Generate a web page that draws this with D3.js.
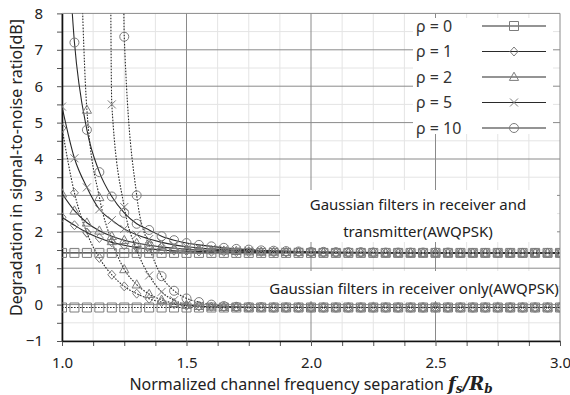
<!DOCTYPE html>
<html>
<head>
<meta charset="utf-8">
<title>Degradation vs channel separation</title>
<style>
  body { margin: 0; background: #fff; }
  svg { display: block; }
  svg text { font-family: "Noto Sans", sans-serif; fill: #222; }
  .grid-minor line { stroke: #e4e4e4; stroke-width: 1; }
  .grid-major line { stroke: #8a8a8a; stroke-width: 1; }
  .axis path { stroke: #111; stroke-width: 1.6; }
  .axis line { stroke: #555; }
  .axis text { font-size: 15px; fill: #222; }
  .curve { fill: none; stroke: #2a2a2a; stroke-width: 1.1; }
  .curve.dotted { stroke-dasharray: 1.6 1.4; }
  .marker { fill: none; stroke: #7c7c7c; stroke-width: 1; }
  .math { font-family: "DejaVu Serif", serif; font-weight: bold; font-style: italic; }
</style>
</head>
<body>
<svg width="570" height="395"></svg>
<script src="https://cdnjs.cloudflare.com/ajax/libs/d3/7.8.5/d3.min.js"></script>
<script>
// normalized channel frequency separation fs/Rb
const xVals = [1.00, 1.05, 1.10, 1.15, 1.20, 1.25, 1.30, 1.35, 1.40, 1.45, 1.50, 1.55, 1.60, 1.65,
  1.70, 1.75, 1.80, 1.85, 1.90, 1.95, 2.00, 2.05, 2.10, 2.15, 2.20, 2.25, 2.30, 2.35, 2.40, 2.45,
  2.50, 2.55, 2.60, 2.65, 2.70, 2.75, 2.80, 2.85, 2.90, 2.95, 3.00];

// Gaussian filters in receiver and transmitter (solid lines)
const bothRho0 = [1.42, 1.42, 1.42, 1.42, 1.42, 1.42, 1.42, 1.42, 1.42, 1.42, 1.42, 1.42, 1.42, 1.42,
  1.42, 1.42, 1.42, 1.42, 1.42, 1.42, 1.42, 1.42, 1.42, 1.42, 1.42, 1.42, 1.42, 1.42, 1.42, 1.42,
  1.42, 1.42, 1.42, 1.42, 1.42, 1.42, 1.42, 1.42, 1.42, 1.42, 1.42];
const bothRho1 = [2.40, 2.18, 1.98, 1.83, 1.71, 1.63, 1.57, 1.53, 1.50, 1.48, 1.47, 1.46, 1.45, 1.45,
  1.44, 1.44, 1.44, 1.43, 1.43, 1.43, 1.43, 1.42, 1.42, 1.42, 1.42, 1.42, 1.42, 1.42, 1.42, 1.42,
  1.42, 1.42, 1.42, 1.42, 1.42, 1.42, 1.42, 1.42, 1.42, 1.42, 1.42];
const bothRho2 = [3.05, 2.58, 2.25, 2.03, 1.88, 1.77, 1.69, 1.63, 1.58, 1.55, 1.52, 1.50, 1.49, 1.48,
  1.47, 1.46, 1.45, 1.45, 1.44, 1.44, 1.44, 1.43, 1.43, 1.43, 1.43, 1.43, 1.42, 1.42, 1.42, 1.42,
  1.42, 1.42, 1.42, 1.42, 1.42, 1.42, 1.42, 1.42, 1.42, 1.42, 1.42];
const bothRho5 = [5.44, 4.02, 3.22, 2.62, 2.32, 2.08, 1.92, 1.80, 1.71, 1.64, 1.59, 1.56, 1.53, 1.51,
  1.49, 1.48, 1.47, 1.46, 1.45, 1.45, 1.44, 1.44, 1.44, 1.43, 1.43, 1.43, 1.43, 1.43, 1.42, 1.42,
  1.42, 1.42, 1.42, 1.42, 1.42, 1.42, 1.42, 1.42, 1.42, 1.42, 1.42];
const bothRho10 = [13.0, 7.20, 4.80, 3.64, 2.97, 2.52, 2.22, 2.05, 1.88, 1.77, 1.69, 1.64, 1.60, 1.56,
  1.53, 1.51, 1.49, 1.48, 1.47, 1.46, 1.45, 1.45, 1.44, 1.44, 1.44, 1.43, 1.43, 1.43, 1.43, 1.43,
  1.43, 1.43, 1.42, 1.42, 1.42, 1.42, 1.42, 1.42, 1.42, 1.42, 1.42];

// Gaussian filters in receiver only (dotted lines); values above 8 leave the plot
const rxRho0 = [-0.08, -0.08, -0.08, -0.08, -0.08, -0.08, -0.08, -0.08, -0.08, -0.08, -0.08, -0.08,
  -0.08, -0.08, -0.08, -0.08, -0.08, -0.08, -0.08, -0.08, -0.08, -0.08, -0.08, -0.08, -0.08, -0.08,
  -0.08, -0.08, -0.08, -0.08, -0.08, -0.08, -0.08, -0.08, -0.08, -0.08, -0.08, -0.08, -0.08, -0.08, -0.08];
const rxRho1 = [4.85, 3.07, 1.97, 1.28, 0.82, 0.50, 0.30, 0.16, 0.07, 0.01, -0.03, -0.05, -0.06, -0.07,
  -0.07, -0.08, -0.08, -0.08, -0.08, -0.08, -0.08, -0.08, -0.08, -0.08, -0.08, -0.08, -0.08, -0.08,
  -0.08, -0.08, -0.08, -0.08, -0.08, -0.08, -0.08, -0.08, -0.08, -0.08, -0.08, -0.08, -0.08];
const rxRho2 = [40.0, 17.5, 5.35, 2.95, 1.74, 0.97, 0.55, 0.29, 0.13, 0.04, -0.01, -0.04, -0.06, -0.07,
  -0.07, -0.08, -0.08, -0.08, -0.08, -0.08, -0.08, -0.08, -0.08, -0.08, -0.08, -0.08, -0.08, -0.08,
  -0.08, -0.08, -0.08, -0.08, -0.08, -0.08, -0.08, -0.08, -0.08, -0.08, -0.08, -0.08, -0.08];
const rxRho5 = [800, 500, 300, 180, 5.50, 2.68, 1.50, 0.80, 0.35, 0.12, 0.00, -0.04, -0.06, -0.07,
  -0.07, -0.08, -0.08, -0.08, -0.08, -0.08, -0.08, -0.08, -0.08, -0.08, -0.08, -0.08, -0.08, -0.08,
  -0.08, -0.08, -0.08, -0.08, -0.08, -0.08, -0.08, -0.08, -0.08, -0.08, -0.08, -0.08, -0.08];
const rxRho10 = [1200, 900, 600, 400, 200, 7.36, 3.00, 1.60, 0.78, 0.38, 0.17, 0.07, 0.00, -0.04,
  -0.06, -0.07, -0.07, -0.08, -0.08, -0.08, -0.08, -0.08, -0.08, -0.08, -0.08, -0.08, -0.08, -0.08,
  -0.08, -0.08, -0.08, -0.08, -0.08, -0.08, -0.08, -0.08, -0.08, -0.08, -0.08, -0.08, -0.08];

const rhoValues = [0, 1, 2, 5, 10];
const yTicks = [-1, 0, 1, 2, 3, 4, 5, 6, 7, 8];
const xTicks = [1.0, 1.5, 2.0, 2.5, 3.0];
const noteBoth = ["Gaussian filters in receiver and", "transmitter(AWQPSK)"];
const noteRx = "Gaussian filters in receiver only(AWQPSK)";

const series = [
  { rho: 0, values: bothRho0, dotted: false },
  { rho: 1, values: bothRho1, dotted: false },
  { rho: 2, values: bothRho2, dotted: false },
  { rho: 5, values: bothRho5, dotted: false },
  { rho: 10, values: bothRho10, dotted: false },
  { rho: 0, values: rxRho0, dotted: true },
  { rho: 1, values: rxRho1, dotted: true },
  { rho: 2, values: rxRho2, dotted: true },
  { rho: 5, values: rxRho5, dotted: true },
  { rho: 10, values: rxRho10, dotted: true }
];

const svg = d3.select("svg");
const plotLeft = 62, plotRight = 560, plotTop = 13.4, plotBottom = 341;

const x = d3.scaleLinear().domain([1, 3]).range([plotLeft, plotRight]);
const y = d3.scaleLinear().domain([-1, 8]).range([plotBottom, plotTop]);

const minorX = d3.range(1, 3.0001, 0.125).filter(v => Math.abs(v * 2 - Math.round(v * 2)) > 1e-6);
const minorY = d3.range(-0.5, 8, 1);

// grid lines
const gMinor = svg.append("g").attr("class", "grid-minor");
gMinor.selectAll(".vx").data(minorX).enter().append("line")
  .attr("x1", d => x(d)).attr("x2", d => x(d)).attr("y1", plotTop).attr("y2", plotBottom);
gMinor.selectAll(".hy").data(minorY).enter().append("line")
  .attr("x1", plotLeft).attr("x2", plotRight).attr("y1", d => y(d)).attr("y2", d => y(d));

const gMajor = svg.append("g").attr("class", "grid-major");
gMajor.selectAll(".vx").data(xTicks).enter().append("line")
  .attr("x1", d => x(d)).attr("x2", d => x(d)).attr("y1", plotTop).attr("y2", plotBottom);
gMajor.selectAll(".hy").data(yTicks).enter().append("line")
  .attr("x1", plotLeft).attr("x2", plotRight).attr("y1", d => y(d)).attr("y2", d => y(d));

// axes
svg.append("g").attr("class", "axis")
  .attr("transform", "translate(0," + plotBottom + ")")
  .call(d3.axisBottom(x).tickValues(minorX).tickFormat("").tickSize(5).tickSizeOuter(0))
  .select(".domain").remove();
svg.append("g").attr("class", "axis")
  .attr("transform", "translate(" + plotLeft + ",0)")
  .call(d3.axisLeft(y).tickValues(minorY).tickFormat("").tickSize(5).tickSizeOuter(0))
  .select(".domain").remove();
svg.append("g").attr("class", "axis")
  .attr("transform", "translate(0," + plotBottom + ")")
  .call(d3.axisBottom(x).tickValues(xTicks).tickFormat(d3.format(".1f"))
    .tickSize(5).tickSizeOuter(0).tickPadding(11));
svg.append("g").attr("class", "axis")
  .attr("transform", "translate(" + plotLeft + ",0)")
  .call(d3.axisLeft(y).tickValues(yTicks).tickFormat(d3.format("d"))
    .tickSize(5).tickSizeOuter(0).tickPadding(14));

// white boxes behind the notes
svg.append("rect").attr("x", 280).attr("y", 190).attr("width", 277).attr("height", 52).attr("fill", "#fff");
svg.append("rect").attr("x", 270).attr("y", 271).attr("width", 287).attr("height", 30).attr("fill", "#fff");

svg.append("text").attr("x", 418).attr("y", 210).attr("text-anchor", "middle")
  .style("font-size", "15px").text(noteBoth[0]);
svg.append("text").attr("x", 418).attr("y", 236.5).attr("text-anchor", "middle")
  .style("font-size", "15px").text(noteBoth[1]);
svg.append("text").attr("x", 414).attr("y", 294).attr("text-anchor", "middle")
  .style("font-size", "15px").text(noteRx);

// marker shapes
function markerPath(rho) {
  const p = d3.path();
  if (rho === 0) {
    p.rect(-4.5, -4.5, 9, 9);
  } else if (rho === 1) {
    p.moveTo(0, -4.5); p.lineTo(4, 0); p.lineTo(0, 4.5); p.lineTo(-4, 0); p.closePath();
  } else if (rho === 2) {
    p.moveTo(0, -4.8); p.lineTo(4.6, 3.4); p.lineTo(-4.6, 3.4); p.closePath();
  } else if (rho === 5) {
    p.moveTo(-4, -4); p.lineTo(4, 4); p.moveTo(-4, 4); p.lineTo(4, -4);
  } else {
    p.moveTo(4.5, 0); p.arc(0, 0, 4.5, 0, 2 * Math.PI);
  }
  return p.toString();
}

svg.append("clipPath").attr("id", "plot-clip")
  .append("rect").attr("x", plotLeft).attr("y", plotTop)
  .attr("width", plotRight - plotLeft).attr("height", plotBottom - plotTop);

const line = d3.line()
  .x((d, i) => x(xVals[i]))
  .y(d => y(d))
  .curve(d3.curveMonotoneX);

const plot = svg.append("g").attr("clip-path", "url(#plot-clip)");
plot.selectAll(".curve").data(series).enter().append("path")
  .attr("class", d => "curve" + (d.dotted ? " dotted" : ""))
  .attr("d", d => line(d.values));

series.forEach(s => {
  const pts = s.values.map((v, i) => [xVals[i], v]).filter(p => p[1] <= 8);
  plot.selectAll(null).data(pts).enter().append("path")
    .attr("class", "marker")
    .attr("transform", p => "translate(" + x(p[0]) + "," + y(p[1]) + ")")
    .attr("d", markerPath(s.rho));
});

// legend
const legend = svg.append("g");
legend.append("rect").attr("x", 413).attr("y", 18).attr("width", 140).attr("height", 116).attr("fill", "#fff");
const item = legend.selectAll(".item").data(rhoValues).enter().append("g")
  .attr("transform", (d, i) => "translate(0," + (26 + i * 25.5) + ")");
item.append("text").attr("x", 416).attr("y", 5.5).style("font-size", "16px").style("fill", "#333")
  .text(d => "ρ = " + d);
item.append("line").attr("x1", 482).attr("x2", 546).attr("y1", 0).attr("y2", 0)
  .attr("stroke", "#2a2a2a").attr("stroke-width", 1.1);
item.append("path").attr("class", "marker").attr("transform", "translate(514,0)")
  .attr("d", d => markerPath(d)).attr("fill", "#fff");

// axis titles
const xTitle = svg.append("text").attr("x", 311).attr("y", 390).attr("text-anchor", "middle")
  .style("font-size", "16px");
xTitle.append("tspan").text("Normalized channel frequency separation ");
xTitle.append("tspan").attr("class", "math").style("font-size", "18px").text("f");
xTitle.append("tspan").attr("class", "math").style("font-size", "12px").attr("dy", 3).text("s");
xTitle.append("tspan").attr("class", "math").style("font-size", "18px").attr("dy", -3).text("/R");
xTitle.append("tspan").attr("class", "math").style("font-size", "12px").attr("dy", 3).text("b");

svg.append("text").attr("transform", "translate(22,167.5) rotate(-90)")
  .attr("text-anchor", "middle").style("font-size", "16px")
  .text("Degradation in signal-to-noise ratio[dB]");
</script>
</body>
</html>
